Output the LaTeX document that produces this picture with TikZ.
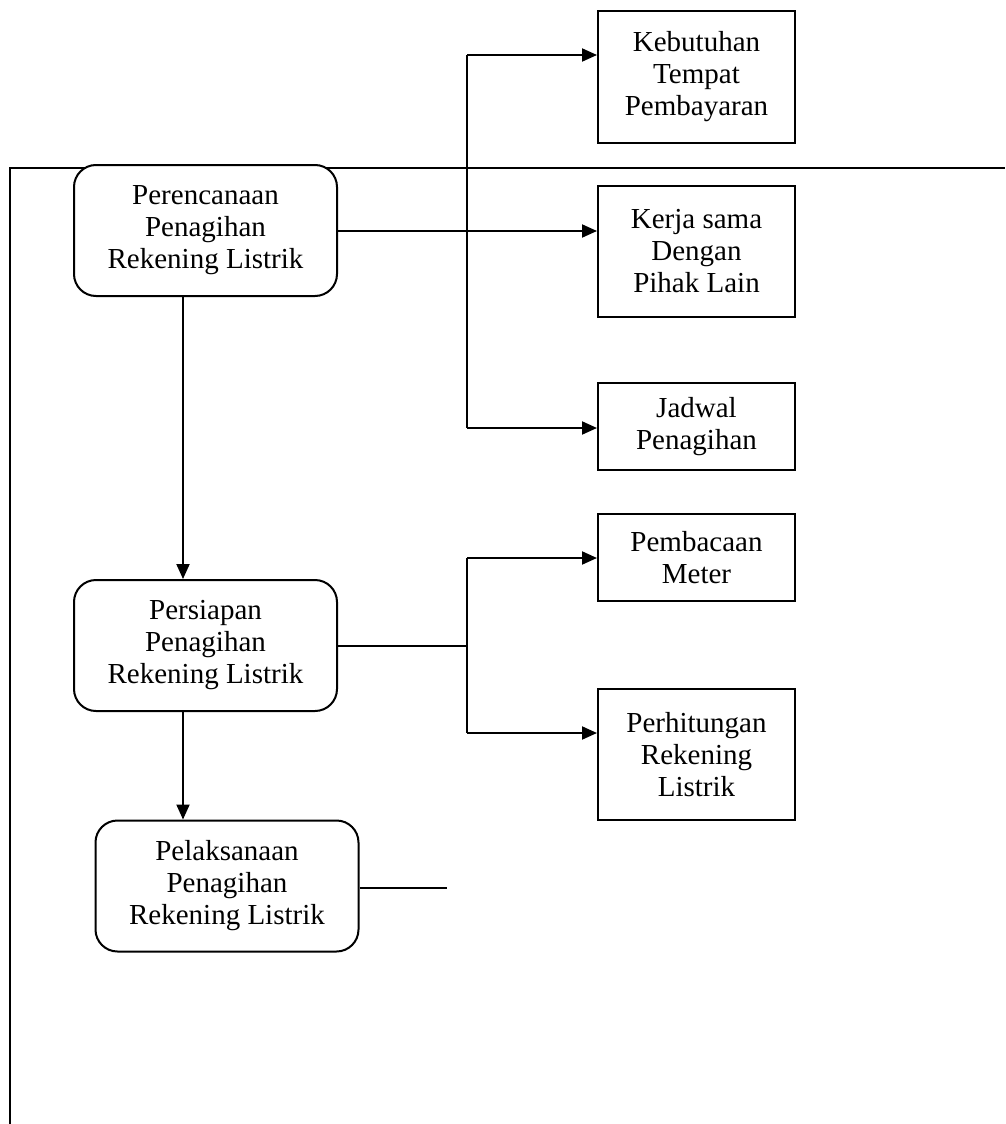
\documentclass[tikz,border=0pt]{standalone}
\usepackage{fontspec}
\setmainfont{Liberation Serif}
\usetikzlibrary{arrows.meta}
\begin{document}
\begin{tikzpicture}[x=1pt,y=-1pt,
  lbl/.style={font=\fontsize{29}{32}\selectfont, align=center, inner sep=0pt},
  rbox/.style={draw, line width=2pt, rounded corners=22pt, minimum width=263pt, minimum height=131pt, lbl},
  sbox/.style={draw, line width=2pt, minimum width=197pt, lbl},
  arr/.style={-{Triangle[length=15pt,width=13pt]}, line width=2pt},
  ln/.style={line width=2pt}
]
\useasboundingbox (0,0) rectangle (1005,1124);
% outer frame line
\coordinate (fb) at (10,1124);
\coordinate (fc) at (10,168);
\coordinate (fr) at (1005,168);
\draw[ln] (fb) -- (fc) -- (fr);

\node[rbox, fill=white] (p1) at (205.5,230.5) {Perencanaan\\Penagihan\\Rekening Listrik};
\node[rbox] (p2) at (205.5,645.5) {Persiapan\\Penagihan\\Rekening Listrik};
\node[rbox] (p3) at (227,886) {Pelaksanaan\\Penagihan\\Rekening Listrik};

\node[sbox, minimum height=131pt] (k1) at (696.5,77) {Kebutuhan\\Tempat\\Pembayaran};
\node[sbox, minimum height=131pt] (k2) at (696.5,251.5) {Kerja sama\\Dengan\\Pihak Lain};
\node[sbox, minimum height=87pt] (k3) at (696.5,426.5) {Jadwal\\Penagihan};
\node[sbox, minimum height=87pt] (k4) at (696.5,557.5) {Pembacaan\\Meter};
\node[sbox, minimum height=131pt] (k5) at (696.5,754.5) {Perhitungan\\Rekening\\Listrik};

% bus 1
\coordinate (b1t) at (467,55);
\coordinate (b1b) at (467,428);
\draw[ln] (b1t) -- (b1b);
\draw[arr] (b1t) -- (k1.west |- b1t);
\draw[arr] (b1b) -- (k3.west |- b1b);
\draw[arr] (p1.east |- 0,231) -- (k2.west |- 0,231);

% bus 2
\coordinate (b2m) at (467,645.5);
\coordinate (b2t) at (467,558);
\coordinate (b2b) at (467,733);
\draw[ln] (p2.east) -- (b2m);
\draw[ln] (b2t) -- (b2b);
\draw[arr] (b2t) -- (k4.west |- b2t);
\draw[arr] (b2b) -- (k5.west |- b2b);

% vertical flow
\draw[arr] (p1.south -| 183,0) -- (p2.north -| 183,0);
\draw[arr] (p2.south -| 183,0) -- (p3.north -| 183,0);

% Pelaksanaan line
\coordinate (e3) at (447,888);
\draw[ln] (p3.east |- e3) -- (e3);
\end{tikzpicture}
\end{document}
